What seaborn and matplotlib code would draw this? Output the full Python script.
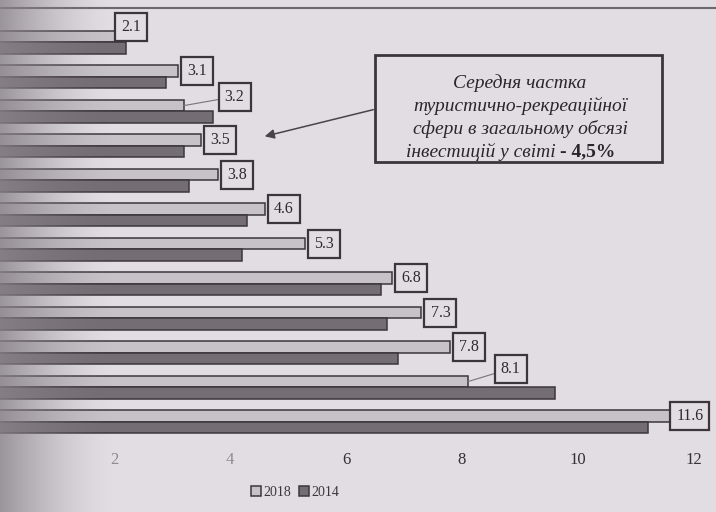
import numpy as np
import pandas as pd
import matplotlib
matplotlib.use("Agg")
import matplotlib.pyplot as plt
from matplotlib.patches import Rectangle
import seaborn as sns

# data (row labels are cut off in the scan)
rows = [str(i) for i in range(1, 13)]
years = ["2018", "2014"]
val_2018 = [2.1, 3.1, 3.2, 3.5, 3.8, 4.6, 5.3, 6.8, 7.3, 7.8, 8.1, 11.6]
val_2014 = [2.2, 2.9, 3.7, 3.2, 3.3, 4.3, 4.2, 6.6, 6.7, 6.9, 9.6, 11.2]
x_ticks = [2, 4, 6, 8, 10, 12]
note_lines = ["Середня частка", "туристично-рекреаційної",
              "сфери в загальному обсязі"]
note_last = "інвестицій у світі"
note_bold = "- 4,5%"

PAPER = "#e1dde2"
LIGHT = "#c6c2c7"
DARK = "#746e74"
EDGE = "#3c363b"
SERIF = "Liberation Serif"

df = pd.DataFrame({
    "row": rows * 2,
    "year": [years[0]] * len(rows) + [years[1]] * len(rows),
    "value": val_2018 + val_2014,
})

sns.set_theme(style="white")
plt.rcParams["font.family"] = [SERIF, "DejaVu Serif"]

W, H = 716, 512
fig = plt.figure(figsize=(W / 100, H / 100), dpi=100)
fig.patch.set_facecolor(PAPER)
ax = fig.add_axes([0, (H - 445) / H, 1, 445 / H])
ax.set_facecolor(PAPER)

sns.barplot(data=df, x="value", y="row", hue="year", hue_order=years,
            orient="h", palette={years[0]: LIGHT, years[1]: DARK},
            saturation=1, width=0.67, edgecolor=EDGE, linewidth=1.1,
            ax=ax)

ax.set_xlim(0.034, 12.38)
ax.set_ylim(11.67, -1.23)
ax.set_xticks(x_ticks)
ax.set_xticklabels([str(t) for t in x_ticks], fontsize=12, color="#333033")
for t in ax.get_xticklabels()[:2]:
    t.set_color("#8e8a8e")   # faded near the binding
ax.tick_params(axis="x", length=0, pad=5)
ax.set_yticks([])
ax.set_xlabel("")
ax.set_ylabel("")
for s in ax.spines.values():
    s.set_visible(False)

# value boxes next to the 2018 bars, pixel offsets (dx, dy)
offsets = {0: (11, 10), 2: (51, 9), 10: (43, 13)}
box = dict(boxstyle="square,pad=0.38", fc=PAPER, ec=EDGE, lw=1.6)
for i, bar in enumerate(ax.containers[0]):
    dx, dy = offsets.get(i, (19, 0))
    lead = None
    if i in (2, 10):
        lead = dict(arrowstyle="-", color="#7a747a", lw=0.8,
                    shrinkA=0, shrinkB=0)
    ax.annotate(f"{val_2018[i]:.1f}",
                xy=(bar.get_width(), bar.get_y() + bar.get_height() / 2),
                xytext=(dx, dy), textcoords="offset pixels",
                ha="center", va="center", fontsize=11.5, color="#2e2a2d",
                bbox=box, arrowprops=lead)

leg = ax.legend(loc="center", bbox_to_anchor=(295 / W, 1 - 492 / H),
                bbox_transform=fig.transFigure, ncol=2, frameon=False,
                handlelength=0.7, handleheight=0.7, handletextpad=0.15,
                columnspacing=0.6, prop={"family": SERIF, "size": 10})
for t in leg.get_texts():
    t.set_color("#3a363a")

# callout box with note
fig.patches.append(Rectangle((375 / W, 1 - 162 / H), 287 / W, 107 / H,
                             transform=fig.transFigure, fill=False,
                             ec=EDGE, lw=2))
for k, line in enumerate(note_lines):
    fig.text(520 / W, 1 - (83 + 23 * k) / H, line, ha="center", va="center",
             fontsize=14, style="italic", family=SERIF, color="#2a262a")
fig.text(556 / W, 1 - 152 / H, note_last, ha="right", va="center",
         fontsize=14, style="italic", family=SERIF, color="#2a262a")
fig.text(560 / W, 1 - 152 / H, note_bold, ha="left", va="center",
         fontsize=14, weight="bold", family=SERIF, color="#2a262a")
fig.add_artist(plt.Annotation("", xy=(262, H - 137), xytext=(376, H - 109),
                              xycoords="figure pixels",
                              textcoords="figure pixels",
                              arrowprops=dict(arrowstyle="-|>", color="#4a444a",
                                              lw=1.1, mutation_scale=14)))

# page edge line and binding shadow from the scan
fig.add_artist(plt.Line2D([0, 1], [1 - 8 / H] * 2, color="#6e686e", lw=1.5))
shade = fig.add_axes([0, 0, 1, 1], zorder=10)
shade.axis("off")
xs = np.arange(W)
alpha = np.clip(1 - xs / 115, 0, 1) ** 1.6 * 0.8
rgba = np.zeros((1, W, 4))
rgba[..., :3] = (0.54, 0.51, 0.54)
rgba[..., 3] = alpha
shade.imshow(rgba, extent=(0, 1, 0, 1), aspect="auto")
shade.set_xlim(0, 1)
shade.set_ylim(0, 1)

fig.savefig("out.png", dpi=100, facecolor=PAPER)
